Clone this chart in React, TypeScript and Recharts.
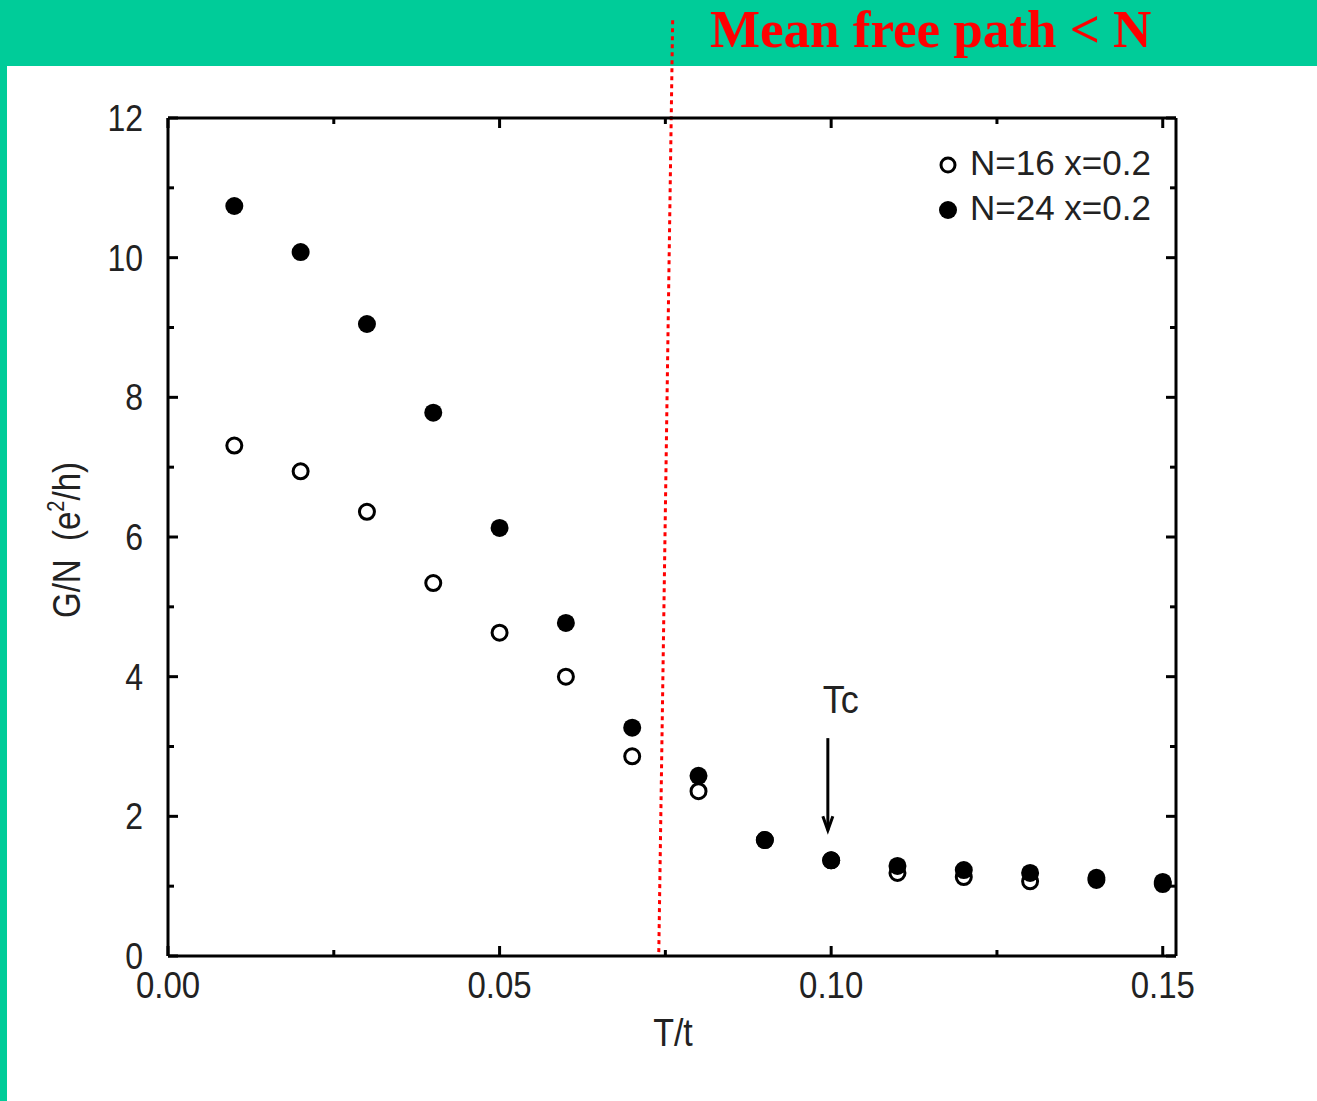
import { ScatterChart, Scatter, XAxis, YAxis, ReferenceLine } from 'recharts';

// T/t values and G/N for both system sizes
const temps = [0.01, 0.02, 0.03, 0.04, 0.05, 0.06, 0.07, 0.08, 0.09, 0.1, 0.11, 0.12, 0.13, 0.14, 0.15];
const n16 = [7.31, 6.94, 6.36, 5.34, 4.63, 4.0, 2.86, 2.36, 1.66, 1.37, 1.19, 1.13, 1.07, 1.09, 1.03];
const n24 = [10.74, 10.08, 9.05, 7.78, 6.13, 4.77, 3.27, 2.58, 1.66, 1.37, 1.29, 1.23, 1.19, 1.12, 1.06];

const xTicks = [0, 0.025, 0.05, 0.075, 0.1, 0.125, 0.15];
const xMajor = [0, 0.05, 0.1, 0.15];
const yTicks = [0, 1, 2, 3, 4, 5, 6, 7, 8, 9, 10, 11, 12];

// mean free path boundary and Tc marker
const mfpLine = [{ x: 0.0761, y: 13.4 }, { x: 0.074, y: 0 }];
const tcArrow = [{ x: 0.0995, y: 3.12 }, { x: 0.0995, y: 1.8 }];

const d16 = temps.map((t, i) => ({ x: t, y: n16[i] }));
const d24 = temps.map((t, i) => ({ x: t, y: n24[i] }));

const W = 1317;
const H = 1101;
const GREEN = '#00cc99';
const FONT = '"Liberation Sans", Arial, sans-serif';

const isMajorX = (v: number) => xMajor.some((m) => Math.abs(m - v) < 1e-6);

function BottomTick({ x, y, payload }: any) {
  const major = isMajorX(payload.value);
  return (
    <g>
      <line x1={x} y1={y} x2={x} y2={y - (major ? 10 : 6)} stroke="#000" strokeWidth={3} />
      {major && (
        <text transform={`translate(${x},${y + 42}) scale(1,1.12)`} textAnchor="middle" fontFamily={FONT} fontSize={33} fill="#222">
          {payload.value.toFixed(2)}
        </text>
      )}
    </g>
  );
}

function TopTick({ x, y, payload }: any) {
  const major = isMajorX(payload.value);
  return <line x1={x} y1={y} x2={x} y2={y + (major ? 10 : 6)} stroke="#000" strokeWidth={3} />;
}

function LeftTick({ x, y, payload }: any) {
  const major = payload.value % 2 === 0;
  return (
    <g>
      <line x1={x} y1={y} x2={x + (major ? 10 : 6)} y2={y} stroke="#000" strokeWidth={3} />
      {major && (
        <text transform={`translate(${x - 25},${y + 13}) scale(1,1.15)`} textAnchor="end" fontFamily={FONT} fontSize={32} fill="#222">
          {payload.value}
        </text>
      )}
    </g>
  );
}

function RightTick({ x, y, payload }: any) {
  const major = payload.value % 2 === 0;
  return <line x1={x} y1={y} x2={x - (major ? 10 : 6)} y2={y} stroke="#000" strokeWidth={3} />;
}

const openDot = (p: any) => <circle cx={p.cx} cy={p.cy} r={7.5} fill="#fff" stroke="#000" strokeWidth={3} />;
const fullDot = (p: any) => <circle cx={p.cx} cy={p.cy} r={9} fill="#000" />;

const tcShape = (p: any) => (
  <g>
    <line x1={p.x1} y1={p.y1} x2={p.x2} y2={p.y2} stroke="#000" strokeWidth={3} />
    <path d={`M${p.x2 - 5},${p.y2 - 14} L${p.x2},${p.y2} L${p.x2 + 5},${p.y2 - 14}`} fill="none" stroke="#000" strokeWidth={3} />
    <text transform={`translate(${p.x1 + 13},${p.y1 - 25}) scale(1,1.1)`} textAnchor="middle" fontFamily={FONT} fontSize={36} fill="#222">
      Tc
    </text>
  </g>
);

export default function App() {
  return (
    <div style={{ position: 'relative', width: W, height: H, background: '#fff', overflow: 'hidden' }}>
      <style>{'body{margin:0}'}</style>
      <div style={{ position: 'absolute', left: 0, top: 0, width: W, height: 66, background: GREEN }} />
      <div style={{ position: 'absolute', left: 0, top: 0, width: 7, height: H, background: GREEN }} />

      <div style={{ position: 'absolute', left: 0, top: 0 }}>
        <ScatterChart width={W} height={H} margin={{ top: 117, right: 140, bottom: 85, left: 108 }}>
          <XAxis
            type="number"
            dataKey="x"
            domain={[0, 0.152]}
            ticks={xTicks}
            interval={0}
            tickSize={0}
            tickMargin={0}
            height={60}
            axisLine={{ stroke: '#000', strokeWidth: 3 }}
            tick={<BottomTick />}
            allowDataOverflow
          />
          <XAxis
            xAxisId="top"
            orientation="top"
            type="number"
            dataKey="x"
            domain={[0, 0.152]}
            ticks={xTicks}
            interval={0}
            tickSize={0}
            tickMargin={0}
            height={1}
            axisLine={{ stroke: '#000', strokeWidth: 3 }}
            tick={<TopTick />}
            allowDataOverflow
          />
          <YAxis
            type="number"
            dataKey="y"
            domain={[0, 12]}
            ticks={yTicks}
            interval={0}
            tickSize={0}
            tickMargin={0}
            width={60}
            axisLine={{ stroke: '#000', strokeWidth: 3 }}
            tick={<LeftTick />}
            allowDataOverflow
          />
          <YAxis
            yAxisId="right"
            orientation="right"
            type="number"
            dataKey="y"
            domain={[0, 12]}
            ticks={yTicks}
            interval={0}
            tickSize={0}
            tickMargin={0}
            width={1}
            axisLine={{ stroke: '#000', strokeWidth: 3 }}
            tick={<RightTick />}
            allowDataOverflow
          />
          <ReferenceLine
            segment={mfpLine}
            ifOverflow="visible"
            stroke="#ff0000"
            strokeWidth={3}
            strokeDasharray="4 4"
          />
          <ReferenceLine segment={tcArrow} ifOverflow="visible" shape={tcShape} />
          <Scatter data={d16} shape={openDot} isAnimationActive={false} />
          <Scatter data={d24} shape={fullDot} isAnimationActive={false} />
          {/* invisible series so the top and right axes have something bound to them */}
          <Scatter data={d16} xAxisId="top" yAxisId="right" shape={() => <g />} isAnimationActive={false} />
        </ScatterChart>
      </div>

      <svg width={W} height={H} style={{ position: 'absolute', left: 0, top: 0, pointerEvents: 'none' }}>
        <text x={710} y={47} fontFamily='"Liberation Serif", "Times New Roman", serif' fontWeight="bold" fontSize={53} fill="#ff0000">
          Mean free path &lt; N
        </text>

        <circle cx={948} cy={165} r={7} fill="#fff" stroke="#000" strokeWidth={3} />
        <text x={970} y={175} fontFamily={FONT} fontSize={35} fill="#222">N=16 x=0.2</text>
        <circle cx={948} cy={210} r={9} fill="#000" />
        <text x={970} y={220} fontFamily={FONT} fontSize={35} fill="#222">N=24 x=0.2</text>

        <text transform="translate(673,1046) scale(1,1.12)" textAnchor="middle" fontFamily={FONT} fontSize={34} fill="#222">T/t</text>

        <text transform="translate(80,540) rotate(-90) scale(1,1.17)" textAnchor="middle" fontFamily={FONT} fontSize={33} fill="#222" xmlSpace="preserve">
          G/N  (e<tspan fontSize={20} dy={-14}>2</tspan><tspan dy={14}>/h)</tspan>
        </text>
      </svg>
    </div>
  );
}
